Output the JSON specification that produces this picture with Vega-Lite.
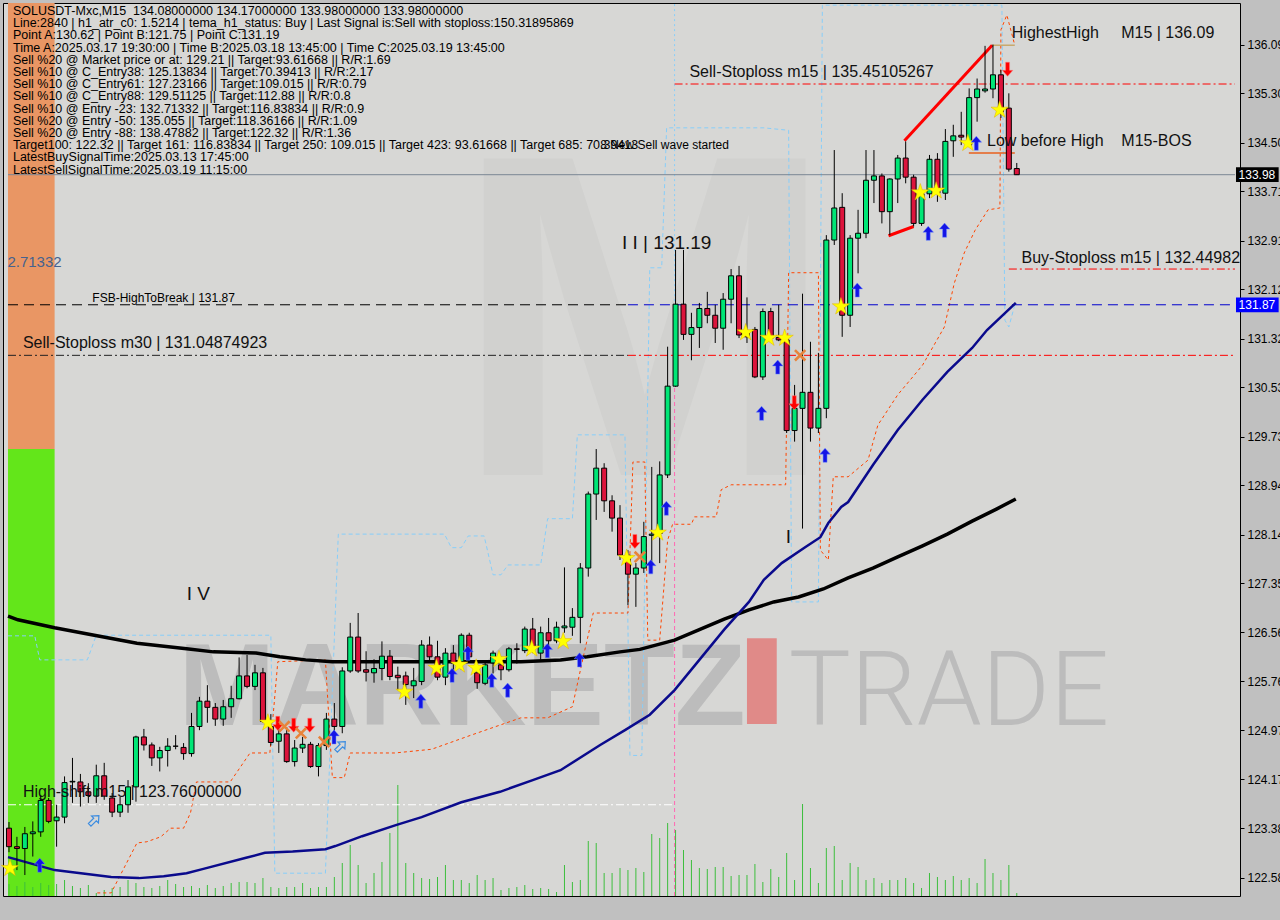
{
"$schema":"https://vega.github.io/schema/vega-lite/v6.json",
"width":1237,"height":893,
"autosize":{"type":"none"},
"padding":{"left":3,"top":3,"right":40,"bottom":24},
"background":"#C0C0C0",
"config":{"view":{"fill":"#D7D7D5","stroke":"#000000","strokeWidth":1},"font":"Liberation Sans"},
"datasets":{
"candles":[
{"i":0,"o":123.38,"h":123.48,"l":122.99,"c":123.08},
{"i":1,"o":123.08,"h":123.24,"l":122.70,"c":123.05},
{"i":2,"o":123.05,"h":123.40,"l":122.62,"c":123.29},
{"i":3,"o":123.29,"h":123.49,"l":122.92,"c":123.32},
{"i":4,"o":123.32,"h":123.92,"l":123.24,"c":123.83},
{"i":5,"o":123.83,"h":123.87,"l":123.46,"c":123.49},
{"i":6,"o":123.50,"h":123.76,"l":123.08,"c":123.56},
{"i":7,"o":123.56,"h":124.22,"l":123.46,"c":124.12},
{"i":8,"o":124.13,"h":124.52,"l":123.79,"c":124.14},
{"i":9,"o":124.13,"h":124.26,"l":123.73,"c":123.97},
{"i":10,"o":123.97,"h":124.11,"l":123.79,"c":123.91},
{"i":11,"o":123.90,"h":124.41,"l":123.79,"c":124.23},
{"i":12,"o":124.23,"h":124.44,"l":123.84,"c":123.90},
{"i":13,"o":123.87,"h":123.95,"l":123.56,"c":123.64},
{"i":14,"o":123.64,"h":123.89,"l":123.56,"c":123.76},
{"i":15,"o":123.76,"h":124.16,"l":123.63,"c":124.05},
{"i":16,"o":124.05,"h":124.88,"l":123.81,"c":124.86},
{"i":17,"o":124.86,"h":124.99,"l":124.64,"c":124.73},
{"i":18,"o":124.73,"h":124.77,"l":124.39,"c":124.52},
{"i":19,"o":124.52,"h":124.70,"l":124.30,"c":124.64},
{"i":20,"o":124.64,"h":124.84,"l":124.38,"c":124.71},
{"i":21,"o":124.71,"h":124.89,"l":124.66,"c":124.71},
{"i":22,"o":124.69,"h":124.76,"l":124.49,"c":124.59},
{"i":23,"o":124.59,"h":125.25,"l":124.54,"c":125.03},
{"i":24,"o":125.03,"h":125.51,"l":124.97,"c":125.44},
{"i":25,"o":125.44,"h":125.70,"l":125.09,"c":125.34},
{"i":26,"o":125.34,"h":125.41,"l":125.04,"c":125.15},
{"i":27,"o":125.15,"h":125.46,"l":125.04,"c":125.35},
{"i":28,"o":125.35,"h":125.69,"l":125.17,"c":125.48},
{"i":29,"o":125.48,"h":126.15,"l":125.47,"c":125.85},
{"i":30,"o":125.85,"h":126.19,"l":125.65,"c":125.68},
{"i":31,"o":125.68,"h":126.03,"l":125.62,"c":125.90},
{"i":32,"o":125.90,"h":125.98,"l":125.09,"c":125.11},
{"i":33,"o":125.03,"h":125.23,"l":124.72,"c":124.77},
{"i":34,"o":124.79,"h":125.03,"l":124.60,"c":124.91},
{"i":35,"o":124.91,"h":125.02,"l":124.44,"c":124.46},
{"i":36,"o":124.46,"h":124.81,"l":124.38,"c":124.68},
{"i":37,"o":124.68,"h":124.86,"l":124.60,"c":124.74},
{"i":38,"o":124.74,"h":124.78,"l":124.36,"c":124.38},
{"i":39,"o":124.38,"h":124.76,"l":124.22,"c":124.72},
{"i":40,"o":124.72,"h":125.25,"l":124.65,"c":125.15},
{"i":41,"o":125.15,"h":125.41,"l":124.92,"c":125.03},
{"i":42,"o":125.03,"h":125.99,"l":124.92,"c":125.93},
{"i":43,"o":125.93,"h":126.71,"l":125.90,"c":126.48},
{"i":44,"o":126.48,"h":126.87,"l":125.90,"c":125.93},
{"i":45,"o":125.95,"h":126.25,"l":125.76,"c":125.91},
{"i":46,"o":125.90,"h":126.12,"l":125.74,"c":125.97},
{"i":47,"o":125.97,"h":126.41,"l":125.78,"c":126.17},
{"i":48,"o":126.17,"h":126.27,"l":125.78,"c":125.84},
{"i":49,"o":125.86,"h":126.00,"l":125.62,"c":125.82},
{"i":50,"o":125.85,"h":125.92,"l":125.38,"c":125.71},
{"i":51,"o":125.69,"h":125.98,"l":125.49,"c":125.77},
{"i":52,"o":125.76,"h":126.43,"l":125.70,"c":126.35},
{"i":53,"o":126.35,"h":126.49,"l":126.08,"c":126.16},
{"i":54,"o":126.16,"h":126.42,"l":125.78,"c":125.83},
{"i":55,"o":125.83,"h":126.30,"l":125.70,"c":126.22},
{"i":56,"o":126.22,"h":126.35,"l":125.95,"c":126.06},
{"i":57,"o":126.08,"h":126.54,"l":125.95,"c":126.51},
{"i":58,"o":126.51,"h":126.55,"l":126.11,"c":126.16},
{"i":59,"o":125.90,"h":125.95,"l":125.64,"c":125.74},
{"i":60,"o":125.73,"h":126.08,"l":125.70,"c":126.03},
{"i":61,"o":126.06,"h":126.26,"l":125.89,"c":126.22},
{"i":62,"o":126.03,"h":126.16,"l":125.78,"c":125.95},
{"i":63,"o":125.95,"h":126.32,"l":125.92,"c":126.29},
{"i":64,"o":126.29,"h":126.38,"l":126.05,"c":126.28},
{"i":65,"o":126.26,"h":126.65,"l":126.22,"c":126.61},
{"i":66,"o":126.61,"h":126.79,"l":126.22,"c":126.32},
{"i":67,"o":126.22,"h":126.65,"l":126.11,"c":126.55},
{"i":68,"o":126.55,"h":126.79,"l":126.32,"c":126.42},
{"i":69,"o":126.42,"h":126.73,"l":126.38,"c":126.64},
{"i":70,"o":126.63,"h":127.61,"l":126.55,"c":126.66},
{"i":71,"o":126.64,"h":126.95,"l":126.50,"c":126.80},
{"i":72,"o":126.80,"h":127.68,"l":126.38,"c":127.60},
{"i":73,"o":127.60,"h":128.84,"l":127.46,"c":128.80},
{"i":74,"o":128.80,"h":129.53,"l":128.38,"c":129.22},
{"i":75,"o":129.22,"h":129.30,"l":128.51,"c":128.69},
{"i":76,"o":128.69,"h":128.78,"l":128.19,"c":128.41},
{"i":77,"o":128.41,"h":128.62,"l":127.73,"c":127.81},
{"i":78,"o":127.81,"h":127.89,"l":127.00,"c":127.50},
{"i":79,"o":127.50,"h":127.68,"l":126.97,"c":127.60},
{"i":80,"o":127.60,"h":128.35,"l":127.52,"c":128.11},
{"i":81,"o":128.13,"h":129.24,"l":127.52,"c":128.15},
{"i":82,"o":128.16,"h":129.33,"l":127.68,"c":129.11},
{"i":83,"o":129.11,"h":131.19,"l":129.06,"c":130.55},
{"i":84,"o":130.55,"h":132.76,"l":130.54,"c":131.88},
{"i":85,"o":131.88,"h":132.76,"l":131.30,"c":131.39},
{"i":86,"o":131.39,"h":131.74,"l":130.97,"c":131.50},
{"i":87,"o":131.50,"h":131.90,"l":131.17,"c":131.81},
{"i":88,"o":131.81,"h":132.08,"l":131.57,"c":131.70},
{"i":89,"o":131.70,"h":131.87,"l":131.25,"c":131.49},
{"i":90,"o":131.49,"h":132.06,"l":131.14,"c":131.96},
{"i":91,"o":131.96,"h":132.45,"l":131.57,"c":132.34},
{"i":92,"o":132.34,"h":132.50,"l":131.33,"c":131.38},
{"i":93,"o":131.41,"h":131.99,"l":131.25,"c":131.35},
{"i":94,"o":131.47,"h":131.51,"l":130.68,"c":130.70},
{"i":95,"o":130.70,"h":131.81,"l":130.65,"c":131.76},
{"i":96,"o":131.76,"h":131.82,"l":131.30,"c":131.33},
{"i":97,"o":131.34,"h":131.87,"l":131.28,"c":131.30},
{"i":98,"o":131.30,"h":131.33,"l":129.79,"c":129.83},
{"i":99,"o":129.83,"h":130.57,"l":129.65,"c":130.19},
{"i":100,"o":130.19,"h":132.05,"l":128.24,"c":130.45},
{"i":101,"o":130.45,"h":131.27,"l":129.65,"c":129.87},
{"i":102,"o":129.87,"h":131.09,"l":129.79,"c":130.19},
{"i":103,"o":130.19,"h":133.00,"l":130.03,"c":132.92},
{"i":104,"o":132.92,"h":134.38,"l":132.84,"c":133.44},
{"i":105,"o":133.45,"h":133.68,"l":131.35,"c":131.70},
{"i":106,"o":131.70,"h":133.00,"l":131.51,"c":132.95},
{"i":107,"o":132.95,"h":133.41,"l":132.38,"c":133.03},
{"i":108,"o":133.03,"h":134.38,"l":132.95,"c":133.89},
{"i":109,"o":133.89,"h":134.38,"l":133.52,"c":133.96},
{"i":110,"o":133.96,"h":134.00,"l":133.19,"c":133.38},
{"i":111,"o":133.38,"h":133.92,"l":133.00,"c":133.91},
{"i":112,"o":133.91,"h":134.30,"l":133.52,"c":134.25},
{"i":113,"o":134.25,"h":134.52,"l":133.84,"c":133.94},
{"i":114,"o":133.94,"h":133.98,"l":133.14,"c":133.19},
{"i":115,"o":133.19,"h":133.73,"l":133.15,"c":133.67},
{"i":116,"o":133.67,"h":134.30,"l":133.60,"c":134.23},
{"i":117,"o":134.23,"h":134.33,"l":133.54,"c":133.68},
{"i":118,"o":133.68,"h":134.72,"l":133.57,"c":134.52},
{"i":119,"o":134.53,"h":134.79,"l":134.27,"c":134.61},
{"i":120,"o":134.62,"h":135.00,"l":134.46,"c":134.59},
{"i":121,"o":134.46,"h":135.38,"l":134.45,"c":135.23},
{"i":122,"o":135.23,"h":135.54,"l":134.84,"c":135.37},
{"i":123,"o":135.34,"h":136.07,"l":135.31,"c":135.37},
{"i":124,"o":135.37,"h":136.09,"l":135.22,"c":135.60},
{"i":125,"o":135.60,"h":135.68,"l":134.90,"c":135.00},
{"i":126,"o":135.06,"h":135.30,"l":134.03,"c":134.07},
{"i":127,"o":134.08,"h":134.17,"l":133.98,"c":133.98}
],
"vol":[
{"i":0,"v":12},{"i":1,"v":10},{"i":2,"v":14},{"i":3,"v":9},{"i":4,"v":13},{"i":5,"v":11},{"i":6,"v":12},{"i":7,"v":16},{"i":8,"v":10},{"i":9,"v":8},
{"i":10,"v":11},{"i":11,"v":3},{"i":12,"v":6},{"i":13,"v":8},{"i":14,"v":9},{"i":15,"v":16},{"i":16,"v":13},{"i":17,"v":9},{"i":18,"v":8},{"i":19,"v":10},
{"i":20,"v":16},{"i":21,"v":12},{"i":22,"v":9},{"i":23,"v":10},{"i":24,"v":8},{"i":25,"v":11},{"i":26,"v":8},{"i":27,"v":10},{"i":28,"v":13},{"i":29,"v":14},
{"i":30,"v":14},{"i":31,"v":13},{"i":32,"v":18},{"i":33,"v":9},{"i":34,"v":8},{"i":35,"v":9},{"i":36,"v":9},{"i":37,"v":13},{"i":38,"v":8},{"i":39,"v":9},
{"i":40,"v":9},{"i":41,"v":19},{"i":42,"v":33},{"i":43,"v":51},{"i":44,"v":31},{"i":45,"v":13},{"i":46,"v":23},{"i":47,"v":34},{"i":48,"v":63},{"i":49,"v":111},
{"i":50,"v":33},{"i":51,"v":23},{"i":52,"v":18},{"i":53,"v":17},{"i":54,"v":19},{"i":55,"v":31},{"i":56,"v":16},{"i":57,"v":16},{"i":58,"v":13},{"i":59,"v":21},
{"i":60,"v":16},{"i":61,"v":18},{"i":62,"v":6},{"i":63,"v":8},{"i":64,"v":9},{"i":65,"v":11},{"i":66,"v":7},{"i":67,"v":8},{"i":68,"v":7},{"i":69,"v":4},
{"i":70,"v":31},{"i":71,"v":14},{"i":72,"v":16},{"i":73,"v":55},{"i":74,"v":53},{"i":75,"v":23},{"i":76,"v":23},{"i":77,"v":28},{"i":78,"v":26},{"i":79,"v":28},
{"i":80,"v":24},{"i":81,"v":62},{"i":82,"v":58},{"i":83,"v":73},{"i":84,"v":66},{"i":85,"v":46},{"i":86,"v":36},{"i":87,"v":28},{"i":88,"v":27},{"i":89,"v":29},
{"i":90,"v":29},{"i":91,"v":20},{"i":92,"v":21},{"i":93,"v":21},{"i":94,"v":32},{"i":95,"v":14},{"i":96,"v":27},{"i":97,"v":19},{"i":98,"v":43},{"i":99,"v":16},
{"i":100,"v":92},{"i":101,"v":28},{"i":102,"v":13},{"i":103,"v":48},{"i":104,"v":50},{"i":105,"v":16},{"i":106,"v":33},{"i":107,"v":29},{"i":108,"v":16},{"i":109,"v":18},
{"i":110,"v":13},{"i":111,"v":16},{"i":112,"v":16},{"i":113,"v":18},{"i":114,"v":13},{"i":115,"v":8},{"i":116,"v":23},{"i":117,"v":19},{"i":118,"v":16},{"i":119,"v":20},
{"i":120,"v":16},{"i":121,"v":18},{"i":122,"v":13},{"i":123,"v":37},{"i":124,"v":23},{"i":125,"v":16},{"i":126,"v":31},{"i":127,"v":3}
],
"ma200":[
{"i":-0.125,"p":126.82},{"i":1.125,"p":126.76},{"i":5.75,"p":126.63},{"i":10.75,"p":126.51},{"i":16.125,"p":126.38},{"i":22.375,"p":126.29},{"i":25.75,"p":126.24},{"i":31.125,"p":126.22},{"i":34.125,"p":126.16},{"i":37.375,"p":126.11},{"i":40.75,"p":126.08},{"i":53.25,"p":126.08},{"i":64.5,"p":126.08},{"i":69.5,"p":126.11},{"i":72.875,"p":126.16},{"i":77,"p":126.24},{"i":79.5,"p":126.28},{"i":83.875,"p":126.43},{"i":87,"p":126.60},{"i":90.125,"p":126.77},{"i":93.25,"p":126.92},{"i":96.375,"p":127.05},{"i":99.5,"p":127.13},{"i":102.625,"p":127.26},{"i":105.75,"p":127.44},{"i":108.875,"p":127.60},{"i":112,"p":127.78},{"i":115.125,"p":127.96},{"i":118.25,"p":128.15},{"i":121.375,"p":128.36},{"i":124.5,"p":128.56},{"i":126.875,"p":128.72}
],
"ma50":[
{"i":-0.125,"p":122.91},{"i":5.75,"p":122.70},{"i":12.875,"p":122.59},{"i":16.375,"p":122.57},{"i":19.5,"p":122.60},{"i":22.375,"p":122.65},{"i":24.5,"p":122.72},{"i":29.875,"p":122.90},{"i":32.25,"p":122.98},{"i":35.75,"p":123.00},{"i":39.875,"p":123.04},{"i":41.125,"p":123.09},{"i":44.5,"p":123.25},{"i":48.75,"p":123.43},{"i":52,"p":123.56},{"i":57,"p":123.80},{"i":61.875,"p":123.97},{"i":66,"p":124.16},{"i":69.5,"p":124.32},{"i":74.5,"p":124.73},{"i":77.625,"p":124.97},{"i":80.75,"p":125.22},{"i":83.875,"p":125.62},{"i":87,"p":126.11},{"i":90.125,"p":126.60},{"i":93.25,"p":127.05},{"i":95.125,"p":127.41},{"i":97.375,"p":127.68},{"i":100.375,"p":127.94},{"i":102.25,"p":128.10},{"i":103.25,"p":128.33},{"i":104.875,"p":128.59},{"i":105.75,"p":128.67},{"i":108.875,"p":129.27},{"i":112,"p":129.84},{"i":115.125,"p":130.33},{"i":118.25,"p":130.78},{"i":121.375,"p":131.17},{"i":123.25,"p":131.46},{"i":126.875,"p":131.90}
],
"lightblue":[
{"i":-0.125,"p":126.50},{"i":3.25,"p":126.50},{"i":3.875,"p":126.11},{"i":9.875,"p":126.11},{"i":11,"p":126.51},{"i":33,"p":126.51},{"i":33.5,"p":122.65},{"i":39.875,"p":122.65},{"i":41.5,"p":128.15},{"i":54.875,"p":128.15},{"i":55.75,"p":127.93},{"i":57,"p":127.93},{"i":57.875,"p":128.12},{"i":59.875,"p":128.12},{"i":61,"p":127.49},{"i":62,"p":127.49},{"i":62.875,"p":127.65},{"i":67,"p":127.65},{"i":67.875,"p":128.40},{"i":71,"p":128.40},{"i":71.625,"p":129.76},{"i":77.625,"p":129.76},{"i":78.25,"p":124.56},{"i":79.75,"p":124.56},{"i":80.75,"p":132.47},{"i":82.25,"p":132.47},{"i":82.875,"p":134.74},{"i":95.125,"p":134.74},{"i":98.25,"p":134.70},{"i":98.625,"p":127.05},{"i":102,"p":127.05},{"i":102.5,"p":136.73},{"i":125.125,"p":136.73},{"i":125.5,"p":131.62},{"i":126,"p":131.51},{"i":126.75,"p":131.87}
],
"orange":[
{"i":11.125,"p":122.33},{"i":12.875,"p":122.33},{"i":16.125,"p":123.14},{"i":17.375,"p":123.16},{"i":19.125,"p":123.24},{"i":20.375,"p":123.38},{"i":22,"p":123.38},{"i":22.875,"p":123.63},{"i":23.625,"p":124.13},{"i":27.875,"p":124.13},{"i":30.375,"p":124.60},{"i":32.875,"p":124.60},{"i":33.875,"p":126.08},{"i":39.875,"p":126.11},{"i":40.75,"p":124.20},{"i":42.25,"p":124.20},{"i":43,"p":124.60},{"i":48.625,"p":124.60},{"i":53.25,"p":124.66},{"i":58.25,"p":124.89},{"i":64.5,"p":125.17},{"i":67.875,"p":125.17},{"i":71,"p":125.35},{"i":72.375,"p":126.16},{"i":73.625,"p":126.87},{"i":78,"p":126.87},{"i":78.625,"p":129.32},{"i":80.125,"p":129.32},{"i":80.5,"p":126.43},{"i":82,"p":126.43},{"i":83,"p":128.05},{"i":83.625,"p":128.31},{"i":86,"p":128.31},{"i":86.375,"p":128.43},{"i":89.125,"p":128.43},{"i":89.75,"p":128.87},{"i":91,"p":128.95},{"i":97.875,"p":128.95},{"i":98.25,"p":132.39},{"i":102,"p":132.39},{"i":102.25,"p":127.89},{"i":103.25,"p":127.73},{"i":103.875,"p":129.08},{"i":105.75,"p":129.08},{"i":108.25,"p":129.35},{"i":109.5,"p":129.92},{"i":112,"p":130.41},{"i":115.125,"p":130.89},{"i":117.875,"p":131.51},{"i":119.125,"p":132.22},{"i":120.375,"p":132.71},{"i":121.75,"p":133.08},{"i":123.375,"p":133.41},{"i":124.875,"p":133.44},{"i":125,"p":136.33},{"i":125.75,"p":136.57},{"i":126.75,"p":136.08}
]
},
"layer":[
{
"encoding":{
"x":{"field":"i","type":"quantitative","scale":{"domain":[-0.125,154.5],"nice":false,"zero":false},"axis":null},
"y":{"field":"p","type":"quantitative","scale":{"domain":[122.28,136.765],"nice":false,"zero":false},
"axis":{"orient":"right","values":[136.09,135.30,134.50,133.71,132.91,132.12,131.32,130.53,129.73,128.94,128.14,127.35,126.56,125.76,124.97,124.17,123.38,122.58],"labelExpr":"format(datum.value,'.2f')","tickSize":4,"tickColor":"#000000","labelColor":"#000000","labelFontSize":12,"labelPadding":3,"domain":false,"grid":false,"title":null,"labelOverlap":false,"labelFlush":false,"labelBound":false}}
},
"layer":[
{"data":{"values":[{"i":-0.125,"i2":5.75,"p":129.53,"p2":136.765}]},
"mark":{"type":"rect","color":"#E99664"},
"encoding":{"x2":{"field":"i2"},"y2":{"field":"p2"}}},
{"data":{"values":[{"i":-0.125,"i2":5.75,"p":122.28,"p2":129.53}]},
"mark":{"type":"rect","color":"#63E61A"},
"encoding":{"x2":{"field":"i2"},"y2":{"field":"p2"}}},
{"data":{"values":[{"i":80.1,"p":129.11,"label":"M"}]},
"mark":{"type":"text","font":"Liberation Sans","fontWeight":"bold","fontSize":460,"color":"#D1D1CF","align":"center","baseline":"alphabetic"},
"encoding":{"text":{"field":"label"}}},
{"data":{"values":[{"i":21.375,"p":125.05,"label":"MARKETZ"}]},
"mark":{"type":"text","font":"Liberation Sans","fontWeight":"bold","fontSize":116,"color":"#BCBCBC","align":"left","baseline":"alphabetic"},
"encoding":{"text":{"field":"label"}}},
{"data":{"values":[{"i":93,"i2":96.75,"p":125.07,"p2":126.46}]},
"mark":{"type":"rect","color":"#E08A88"},
"encoding":{"x2":{"field":"i2"},"y2":{"field":"p2"}}},
{"data":{"values":[{"i":98.25,"p":125.05,"label":"TRADE"}]},
"mark":{"type":"text","font":"Roboto","fontWeight":300,"fontSize":104,"color":"#BCBCBC","align":"left","baseline":"alphabetic"},
"encoding":{"text":{"field":"label"}}}
]
},
{
"data":{"name":"vol"},
"mark":{"type":"bar","width":1,"color":"#3DBE3D"},
"encoding":{
"x":{"field":"i","type":"quantitative","scale":{"domain":[-0.125,154.5],"nice":false,"zero":false},"axis":null},
"y":{"field":"v","type":"quantitative","scale":{"domain":[0,893],"nice":false,"zero":true},"axis":null}
}
},
{
"encoding":{
"x":{"field":"i","type":"quantitative","scale":{"domain":[-0.125,154.5],"nice":false,"zero":false},
"axis":{"orient":"bottom","values":[0,12,24,36,48,60,72,84,96,108,120],"labelExpr":"['18 Mar 2025','18 Mar 20:00','18 Mar 23:00','19 Mar 02:00','19 Mar 05:00','19 Mar 08:00','19 Mar 11:00','19 Mar 14:00','19 Mar 17:00','19 Mar 20:00','19 Mar 23:00'][round(datum.value/12)]","labelAlign":"left","labelOffset":-2,"labelPadding":3,"tickSize":5,"tickColor":"#000000","labelColor":"#000000","labelFontSize":11.5,"domain":false,"grid":false,"title":null,"labelFlush":false,"labelOverlap":false,"labelBound":false}},
"y":{"field":"p","type":"quantitative","scale":{"domain":[122.28,136.765],"nice":false,"zero":false},"axis":null}
},
"layer":[
{"data":{"name":"lightblue"},"mark":{"type":"line","color":"#87CEFA","strokeWidth":1,"strokeDash":[4,3]},"encoding":{"order":{"value":null}}},
{"data":{"name":"orange"},"mark":{"type":"line","color":"#FF4500","strokeWidth":1,"strokeDash":[3,3]},"encoding":{"order":{"value":null}}},
{"data":{"values":[{"i":83.875,"p":130.55,"p2":136.765}]},"mark":{"type":"rule","color":"#87CEFA","strokeDash":[2,3]},"encoding":{"y2":{"field":"p2"}}},
{"data":{"values":[{"i":83.875,"p":122.28,"p2":130.55}]},"mark":{"type":"rule","color":"#FF69B4","strokeDash":[4,3]},"encoding":{"y2":{"field":"p2"}}},
{"data":{"values":[{"i":-0.125,"i2":154.5,"p":133.98}]},"mark":{"type":"rule","color":"#7B8794","strokeWidth":1},"encoding":{"x2":{"field":"i2"}}},
{"data":{"values":[{"i":-0.125,"i2":78,"p":131.87}]},"mark":{"type":"rule","color":"#000000","strokeDash":[10,6]},"encoding":{"x2":{"field":"i2"}}},
{"data":{"values":[{"i":78,"i2":154.5,"p":131.87}]},"mark":{"type":"rule","color":"#0000CD","strokeDash":[10,6]},"encoding":{"x2":{"field":"i2"}}},
{"data":{"values":[{"i":-0.125,"i2":78,"p":131.05}]},"mark":{"type":"rule","color":"#222222","strokeDash":[8,3,2,3]},"encoding":{"x2":{"field":"i2"}}},
{"data":{"values":[{"i":78,"i2":154.5,"p":131.05},{"i":83.875,"i2":154.5,"p":135.451},{"i":126,"i2":154.5,"p":132.4498}]},"mark":{"type":"rule","color":"#FF0000","strokeDash":[8,3,2,3]},"encoding":{"x2":{"field":"i2"}}},
{"data":{"values":[{"i":-0.125,"i2":83.875,"p":123.76}]},"mark":{"type":"rule","color":"#FFFFFF","strokeDash":[8,3,2,3]},"encoding":{"x2":{"field":"i2"}}},
{"data":{"values":[{"i":123.875,"i2":126.75,"p":136.08}]},"mark":{"type":"rule","color":"#C8A96E","strokeWidth":1.5},"encoding":{"x2":{"field":"i2"}}},
{"data":{"values":[{"i":120.96,"i2":126.75,"p":134.33}]},"mark":{"type":"rule","color":"#E8601C","strokeWidth":1.5},"encoding":{"x2":{"field":"i2"}}},
{"data":{"name":"ma200"},"mark":{"type":"line","color":"#000000","strokeWidth":3.5},"encoding":{}},
{"data":{"name":"ma50"},"mark":{"type":"line","color":"#0A0A8C","strokeWidth":2.5},"encoding":{}},
{"data":{"values":[{"g":"a","i":112.84,"p":134.53},{"g":"a","i":123.9,"p":136.08},{"g":"b","i":110.84,"p":132.99},{"g":"b","i":114,"p":133.14}]},"mark":{"type":"line","color":"#FF0000","strokeWidth":3},"encoding":{"detail":{"field":"g"}}},
{"data":{"name":"candles"},"mark":{"type":"rule","color":"#000000","strokeWidth":1},
"encoding":{"y":{"field":"l","type":"quantitative","scale":{"domain":[122.28,136.765],"nice":false,"zero":false},"axis":null},"y2":{"field":"h"}}},
{"data":{"name":"candles"},"mark":{"type":"bar","width":5,"stroke":"#000000","strokeWidth":1},
"encoding":{"y":{"field":"o","type":"quantitative","scale":{"domain":[122.28,136.765],"nice":false,"zero":false},"axis":null},"y2":{"field":"c"},
"fill":{"condition":{"test":"datum.c >= datum.o","value":"#00E676"},"value":"#DC143C"}}},
{"data":{"values":[{"i":0.125,"p":122.73},{"i":32.625,"p":125.09},{"i":49.84,"p":125.59},{"i":53.875,"p":125.98},{"i":56.75,"p":126.03},{"i":58.875,"p":125.98},{"i":61.75,"p":126.12},{"i":65.875,"p":126.29},{"i":69.84,"p":126.41},{"i":77.84,"p":127.76},{"i":81.75,"p":128.17},{"i":92.84,"p":131.42},{"i":95.75,"p":131.33},{"i":97.75,"p":131.33},{"i":104.84,"p":131.84},{"i":114.84,"p":133.69},{"i":116.84,"p":133.72},{"i":120.84,"p":134.49},{"i":124.84,"p":135.03}]},
"mark":{"type":"point","shape":"M0,-1L0.2245,-0.309L0.951,-0.309L0.363,0.118L0.588,0.809L0,0.382L-0.588,0.809L-0.363,0.118L-0.951,-0.309L-0.2245,-0.309Z","size":330,"filled":true,"fill":"#FFFF00","stroke":"#E0B000","strokeWidth":0.5,"opacity":1},"encoding":{}},
{"data":{"values":[{"i":3.875,"p":122.78},{"i":40.96,"p":124.86},{"i":51.9,"p":125.44},{"i":55.84,"p":125.86},{"i":57.84,"p":126.22},{"i":60.84,"p":125.78},{"i":62.84,"p":125.62},{"i":67.84,"p":126.26},{"i":71.9,"p":126.11},{"i":80.875,"p":127.62},{"i":82.84,"p":128.57},{"i":94.84,"p":130.11},{"i":96.875,"p":130.86},{"i":102.84,"p":129.43},{"i":106.9,"p":132.11},{"i":115.84,"p":133.03},{"i":117.9,"p":133.08},{"i":121.9,"p":134.49}]},
"mark":{"type":"point","shape":"M0,-1L0.75,-0.15L0.28,-0.15L0.28,1L-0.28,1L-0.28,-0.15L-0.75,-0.15Z","size":200,"filled":true,"fill":"#1414E6","stroke":"#6A8CFF","strokeWidth":0.5,"opacity":1},"encoding":{}},
{"data":{"values":[{"i":33.875,"p":125.08},{"i":35.875,"p":125.05},{"i":37.9,"p":125.05},{"i":78.875,"p":128.03},{"i":98.96,"p":130.28},{"i":125.84,"p":135.69}]},
"mark":{"type":"point","shape":"M0,1L0.75,0.15L0.28,0.15L0.28,-1L-0.28,-1L-0.28,0.15L-0.75,0.15Z","size":200,"filled":true,"fill":"#FF0000","stroke":"#FF8080","strokeWidth":0.5,"opacity":1},"encoding":{}},
{"data":{"values":[{"i":34.7,"p":125.03},{"i":36.8,"p":124.92},{"i":39.7,"p":124.78},{"i":79.5,"p":127.78},{"i":99.7,"p":131.05}]},
"mark":{"type":"point","shape":"M-1,-0.7L-0.7,-1L0,-0.3L0.7,-1L1,-0.7L0.3,0L1,0.7L0.7,1L0,0.3L-0.7,1L-1,0.7L-0.3,0Z","size":150,"filled":true,"fill":"#E8833A","opacity":1},"encoding":{}},
{"data":{"values":[{"i":10.75,"p":123.51},{"i":41.8,"p":124.71}]},
"mark":{"type":"point","shape":"M0,-1L0.75,-0.15L0.28,-0.15L0.28,1L-0.28,1L-0.28,-0.15L-0.75,-0.15Z","angle":45,"size":170,"filled":false,"stroke":"#3C8CE0","strokeWidth":1.2,"opacity":1},"encoding":{}},
{"data":{"values":[
{"i":0.5,"p":136.635,"label":"SOLUSDT-Mxc,M15\u00a0\u00a0134.08000000 134.17000000 133.98000000 133.98000000"},
{"i":0.5,"p":136.437,"label":"Line:2840 | h1_atr_c0: 1.5214 | tema_h1_status: Buy | Last Signal is:Sell with stoploss:150.31895869"},
{"i":0.5,"p":136.239,"label":"Point A:130.62 | Point B:121.75 | Point C:131.19"},
{"i":0.5,"p":136.041,"label":"Time A:2025.03.17 19:30:00 | Time B:2025.03.18 13:45:00 | Time C:2025.03.19 13:45:00"},
{"i":0.5,"p":135.844,"label":"Sell %20 @ Market price or at: 129.21 || Target:93.61668 || R/R:1.69"},
{"i":0.5,"p":135.646,"label":"Sell %10 @ C_Entry38: 125.13834 || Target:70.39413 || R/R:2.17"},
{"i":0.5,"p":135.448,"label":"Sell %10 @ C_Entry61: 127.23166 || Target:109.015 || R/R:0.79"},
{"i":0.5,"p":135.250,"label":"Sell %10 @ C_Entry88: 129.51125 || Target:112.88 || R/R:0.8"},
{"i":0.5,"p":135.052,"label":"Sell %10 @ Entry -23: 132.71332 || Target:116.83834 || R/R:0.9"},
{"i":0.5,"p":134.854,"label":"Sell %20 @ Entry -50: 135.055 || Target:118.36166 || R/R:1.09"},
{"i":0.5,"p":134.656,"label":"Sell %20 @ Entry -88: 138.47882 || Target:122.32 || R/R:1.36"},
{"i":0.5,"p":134.458,"label":"Target100: 122.32 || Target 161: 116.83834 || Target 250: 109.015 || Target 423: 93.61668 || Target 685: 70.39413"},
{"i":0.5,"p":134.261,"label":"LatestBuySignalTime:2025.03.13 17:45:00"},
{"i":0.5,"p":134.063,"label":"LatestSellSignalTime:2025.03.19 11:15:00"}
]},
"mark":{"type":"text","align":"left","baseline":"middle","fontSize":12.5,"color":"#000000"},"encoding":{"text":{"field":"label"}}},
{"data":{"values":[{"i":74.5,"p":134.46,"label":"8 New Sell wave started"},{"i":10.5,"p":131.98,"label":"FSB-HighToBreak | 131.87"}]},
"mark":{"type":"text","align":"left","baseline":"middle","fontSize":12,"color":"#000000"},"encoding":{"text":{"field":"label"}}},
{"data":{"values":[
{"i":85.75,"p":135.65,"label":"Sell-Stoploss m15 | 135.45105267"},
{"i":126.375,"p":136.28,"label":"HighestHigh\u00a0\u00a0\u00a0\u00a0\u00a0M15 | 136.09"},
{"i":123.25,"p":134.53,"label":"Low before High\u00a0\u00a0\u00a0\u00a0M15-BOS"},
{"i":127.6,"p":132.63,"label":"Buy-Stoploss m15 | 132.44982000"},
{"i":1.75,"p":131.25,"label":"Sell-Stoploss m30 | 131.04874923"},
{"i":1.75,"p":123.97,"label":"High-shift m15 | 123.76000000"}
]},
"mark":{"type":"text","align":"left","baseline":"middle","fontSize":16,"color":"#111111","clip":true},"encoding":{"text":{"field":"label"}}},
{"data":{"values":[{"i":77.25,"p":132.87,"label":"I I | 131.19"},{"i":22.4,"p":127.18,"label":"I V"},{"i":97.9,"p":128.10,"label":"I"}]},
"mark":{"type":"text","align":"left","baseline":"middle","fontSize":19,"color":"#111111"},"encoding":{"text":{"field":"label"}}},
{"data":{"values":[{"i":-0.2,"p":132.56,"label":"2.71332"}]},
"mark":{"type":"text","align":"left","baseline":"middle","fontSize":15,"color":"#45628F"},"encoding":{"text":{"field":"label"}}},
{"data":{"values":[{"i":154.625,"i2":160,"p":133.86,"p2":134.10}]},
"mark":{"type":"rect","clip":false,"color":"#000000"},
"encoding":{"x2":{"field":"i2"},"y2":{"field":"p2"}}},
{"data":{"values":[{"i":154.625,"i2":160,"p":131.75,"p2":131.99}]},
"mark":{"type":"rect","clip":false,"color":"#0000FF"},
"encoding":{"x2":{"field":"i2"},"y2":{"field":"p2"}}},
{"data":{"values":[{"i":154.95,"p":133.98,"label":"133.98"},{"i":154.95,"p":131.87,"label":"131.87"}]},
"mark":{"type":"text","align":"left","baseline":"middle","fontSize":12,"color":"#FFFFFF"},"encoding":{"text":{"field":"label"}}}
]
}
],
"resolve":{"scale":{"y":"independent"}}
}
